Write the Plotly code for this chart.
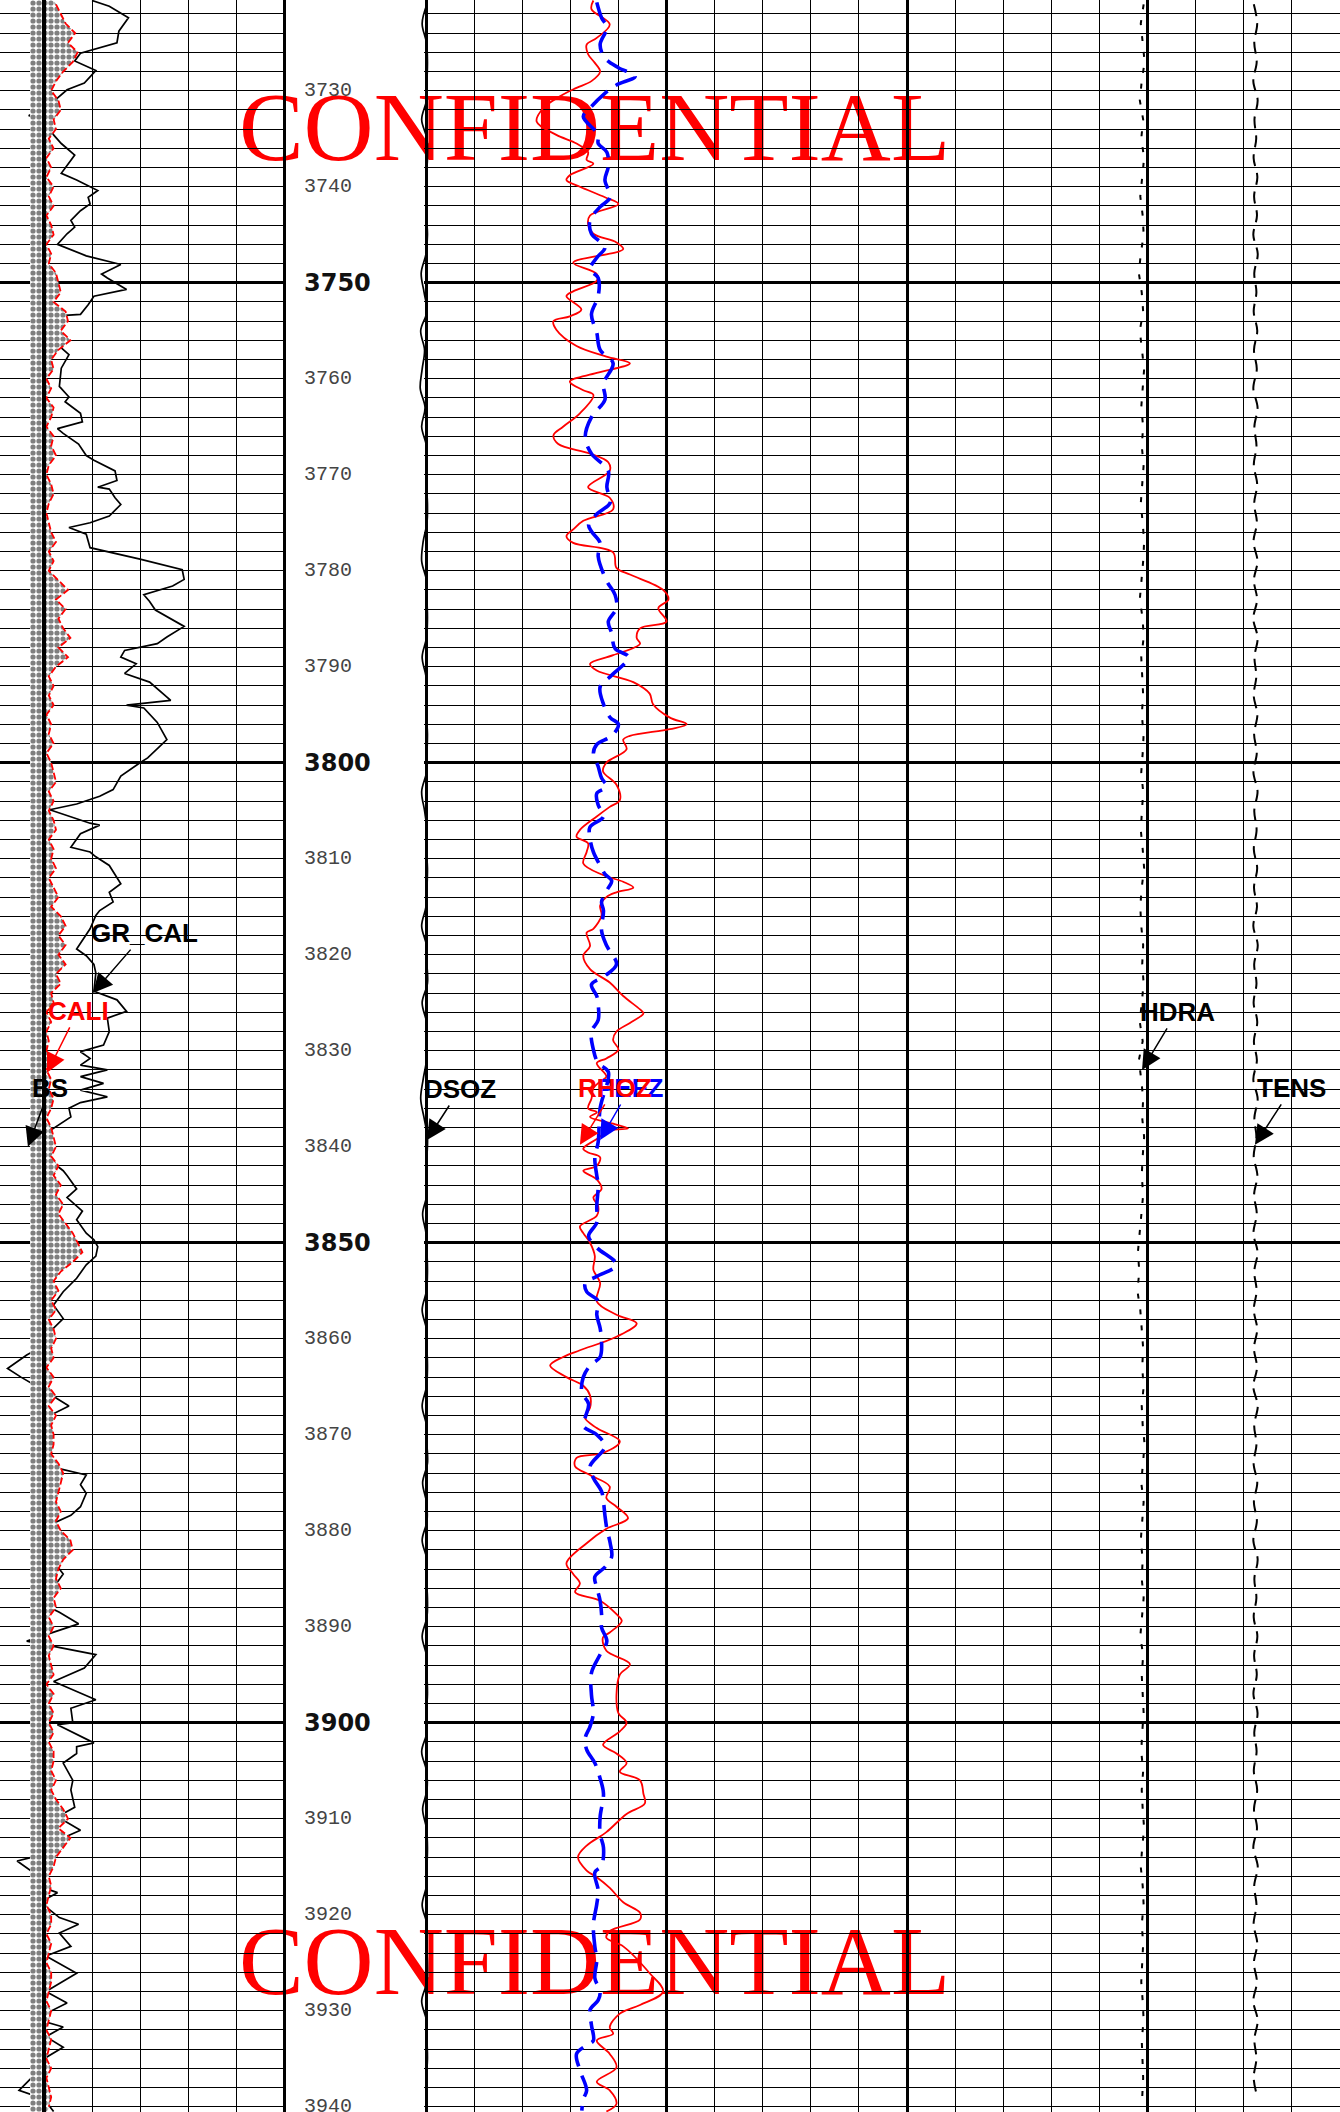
import plotly.graph_objects as go

# ---------------------------------------------------------------- depth window
TOP_DEPTH, BASE_DEPTH = 3720.55, 3940.55
W, H = 1340, 2112

# ---------------------------------------------------------------- track 1 : GR (gAPI)
GR_DEPTH = [
    3720.6, 3721.2, 3722.4, 3723.8, 3725.0, 3726.1, 3726.9, 3727.6, 3727.9, 3729.2,
    3729.9, 3731.1, 3731.8, 3732.6, 3732.8, 3733.9, 3734.6, 3735.5, 3736.7, 3738.6,
    3739.3, 3740.4, 3741.1, 3741.8, 3742.5, 3743.5, 3744.2, 3744.9, 3746.0, 3747.2,
    3748.1, 3749.1, 3749.5, 3750.7, 3751.4, 3752.3, 3753.3, 3753.5, 3753.8, 3754.7,
    3755.4, 3756.6, 3757.5, 3758.9, 3760.8, 3761.9, 3762.4, 3763.6, 3764.5, 3765.2,
    3765.7, 3766.8, 3768.0, 3768.5, 3769.6, 3770.6, 3771.3, 3771.5, 3772.4, 3773.1,
    3774.3, 3775.0, 3775.5, 3776.2, 3777.6, 3778.8, 3779.9, 3780.9, 3781.6, 3782.5,
    3783.2, 3784.1, 3785.8, 3786.9, 3787.6, 3788.3, 3789.0, 3789.7, 3790.7, 3791.6,
    3793.5, 3794.0, 3794.3, 3795.8, 3797.6, 3799.5, 3800.0, 3801.4, 3802.8, 3803.5,
    3804.3, 3804.9, 3805.6, 3806.3, 3806.5, 3807.4, 3808.8, 3809.3, 3809.8, 3810.7,
    3812.6, 3813.5, 3814.5, 3815.4, 3815.9, 3817.3, 3819.4, 3820.1, 3821.0, 3821.9,
    3823.8, 3824.7, 3825.9, 3826.6, 3828.0, 3829.4, 3830.1, 3830.8, 3831.5, 3832.0,
    3832.7, 3833.4, 3834.1, 3834.8, 3835.4, 3836.0, 3836.9, 3838.3, 3839.0, 3840.2,
    3841.1, 3842.5, 3843.0, 3844.4, 3845.3, 3846.7, 3847.6, 3849.0, 3849.7, 3850.4,
    3851.4, 3852.3, 3853.7, 3855.1, 3856.5, 3857.9, 3859.3, 3860.7, 3861.7, 3863.1,
    3864.0, 3865.4, 3867.0, 3868.2, 3868.4, 3869.6, 3870.0, 3871.9, 3873.3, 3874.2,
    3875.2, 3876.1, 3877.5, 3878.4, 3878.9, 3879.4, 3881.3, 3882.7, 3884.5, 3885.9,
    3887.8, 3888.5, 3889.7, 3891.5, 3892.9, 3894.3, 3895.7, 3897.6, 3898.5, 3900.0,
    3900.2, 3902.1, 3902.5, 3903.2, 3904.2, 3906.0, 3907.0, 3908.8, 3909.8, 3911.2,
    3912.6, 3914.0, 3914.4, 3915.4, 3916.1, 3916.3, 3917.2, 3917.7, 3918.7, 3920.3,
    3921.0, 3921.9, 3923.3, 3924.3, 3926.1, 3928.0, 3929.2, 3930.3, 3931.0, 3931.7,
    3932.7, 3933.8, 3935.0, 3936.9, 3938.3, 3939.2, 3940.5]
GR_API = [
    50, 59, 69, 64, 63, 44, 41, 49, 52, 46,
    37, 30, 26, 17, 25, 28, 30, 34, 41, 34,
    42, 53, 48, 49, 44, 39, 41, 37, 32, 47,
    65, 55, 58, 68, 51, 48, 44, 28, 23, 28,
    34, 33, 38, 34, 33, 38, 36, 44, 45, 32,
    35, 43, 47, 51, 62, 63, 53, 59, 62, 65,
    59, 49, 38, 47, 49, 75, 97, 98, 92, 77,
    80, 83, 98, 89, 84, 67, 65, 73, 67, 80,
    91, 68, 77, 84, 89, 79, 75, 65, 61, 54,
    42, 28, 39, 49, 54, 44, 39, 49, 52, 59,
    65, 59, 61, 54, 52, 49, 42, 47, 51, 52,
    51, 63, 68, 58, 59, 56, 44, 49, 44, 58,
    44, 56, 44, 58, 44, 38, 39, 28, 23, 19,
    26, 35, 37, 42, 37, 45, 42, 47, 51, 53,
    52, 47, 42, 35, 30, 35, 28, 25, 16, 6,
    13, 25, 38, 26, 18, 25, 30, 25, 28, 47,
    44, 47, 44, 39, 33, 28, 35, 28, 35, 30,
    26, 33, 43, 16, 52, 46, 30, 52, 39, 40,
    32, 51, 42, 42, 35, 40, 39, 41, 32, 44,
    28, 19, 11, 18, 19, 26, 25, 32, 23, 33,
    43, 33, 39, 26, 42, 26, 37, 26, 23, 35,
    26, 35, 25, 19, 12, 25, 30]

# ---------------------------------------------------------------- track 1 : caliper / bit size (in)
CALI_DEPTH = list(range(3721, 3941))
CALI_IN = [
    8.5, 8.7, 8.9, 9.3, 9.0, 9.4, 9.2, 8.8, 8.5, 8.3,
    8.6, 8.7, 8.4, 8.5, 8.2, 8.4, 8.1, 8.3, 8.1, 8.4,
    8.2, 8.4, 8.1, 8.3, 8.4, 8.1, 8.3, 8.2, 8.5, 8.6,
    8.7, 8.4, 8.9, 9.0, 8.7, 9.1, 8.6, 8.3, 8.4, 8.1,
    8.3, 8.1, 8.4, 8.3, 8.1, 8.4, 8.3, 8.5, 8.2, 8.1,
    8.3, 8.4, 8.2, 8.1, 8.2, 8.3, 8.5, 8.2, 8.4, 8.2,
    8.6, 9.0, 8.5, 8.9, 8.6, 8.8, 9.1, 8.6, 9.0, 8.5,
    8.2, 8.4, 8.2, 8.4, 8.1, 8.3, 8.2, 8.4, 8.1, 8.3,
    8.4, 8.5, 8.2, 8.4, 8.2, 8.4, 8.5, 8.2, 8.4, 8.3,
    8.5, 8.2, 8.4, 8.6, 8.3, 8.7, 8.9, 8.6, 8.9, 8.6,
    8.9, 8.5, 8.7, 8.3, 8.4, 8.1, 8.3, 8.1, 8.2, 8.1,
    8.3, 8.1, 8.3, 8.2, 8.4, 8.3, 8.1, 8.3, 8.4, 8.5,
    8.3, 8.6, 8.4, 8.7, 8.5, 8.8, 8.6, 8.9, 9.2, 9.4,
    9.6, 9.2, 8.7, 8.4, 8.6, 8.3, 8.5, 8.2, 8.4, 8.5,
    8.3, 8.4, 8.1, 8.4, 8.2, 8.5, 8.2, 8.5, 8.3, 8.4,
    8.4, 8.3, 8.6, 8.8, 8.7, 8.6, 8.5, 8.7, 8.5, 8.7,
    9.1, 9.2, 8.8, 8.6, 8.5, 8.7, 8.4, 8.5, 8.2, 8.4,
    8.2, 8.4, 8.2, 8.3, 8.4, 8.1, 8.4, 8.2, 8.4, 8.2,
    8.4, 8.2, 8.4, 8.4, 8.3, 8.5, 8.3, 8.5, 8.8, 9.0,
    8.6, 9.1, 8.8, 8.5, 8.4, 8.2, 8.3, 8.2, 8.1, 8.3,
    8.3, 8.1, 8.3, 8.2, 8.1, 8.3, 8.3, 8.2, 8.1, 8.3,
    8.2, 8.1, 8.3, 8.2, 8.1, 8.3, 8.1, 8.2, 8.3, 8.2]
BIT_SIZE = 8.0
STIPPLE_EDGE = 7.42   # outer edge of the hole-size stipple band

# ---------------------------------------------------------------- track 2 : bulk density (g/cc)
RHOZ_DEPTH = [
    3720.6, 3721.5, 3723.1, 3724.5, 3725.2, 3726.2, 3727.1, 3728.0, 3729.0, 3729.7,
    3730.4, 3731.8, 3733.2, 3734.6, 3735.5, 3736.4, 3737.2, 3737.6, 3738.8, 3739.3,
    3740.0, 3741.1, 3741.8, 3743.0, 3743.9, 3744.9, 3745.8, 3746.5, 3747.9, 3749.1,
    3749.8, 3750.9, 3751.4, 3752.8, 3753.5, 3754.0, 3754.9, 3756.6, 3757.7, 3758.4,
    3759.4, 3760.3, 3761.2, 3761.7, 3763.6, 3765.0, 3765.9, 3766.8, 3767.8, 3768.7,
    3769.6, 3771.3, 3772.4, 3773.6, 3774.8, 3775.7, 3776.4, 3777.1, 3778.1, 3779.7,
    3780.4, 3782.0, 3783.0, 3783.9, 3785.3, 3786.0, 3787.0, 3787.6, 3788.8, 3789.7,
    3790.4, 3791.6, 3792.8, 3793.9, 3795.3, 3796.0, 3796.5, 3797.2, 3797.6, 3798.6,
    3800.0, 3800.9, 3802.3, 3803.9, 3804.6, 3805.6, 3807.0, 3807.7, 3808.4, 3809.3,
    3810.5, 3811.7, 3812.4, 3813.0, 3813.5, 3814.0, 3814.9, 3815.9, 3817.3, 3817.7,
    3819.1, 3820.1, 3821.5, 3822.9, 3824.3, 3825.7, 3826.1, 3827.1, 3828.0, 3828.9,
    3829.9, 3830.8, 3831.3, 3832.7, 3833.2, 3833.9, 3835.0, 3836.0, 3836.4, 3836.9,
    3837.6, 3838.1, 3838.3, 3839.2, 3840.2, 3840.6, 3841.1, 3842.0, 3842.5, 3843.4,
    3844.4, 3845.3, 3846.2, 3847.2, 3848.3, 3849.0, 3850.0, 3851.4, 3852.8, 3854.2,
    3856.1, 3857.5, 3858.4, 3859.8, 3861.2, 3861.9, 3862.8, 3864.0, 3864.9, 3865.9,
    3867.2, 3868.2, 3869.3, 3870.7, 3871.9, 3872.4, 3873.3, 3874.2, 3875.4, 3876.6,
    3877.5, 3878.7, 3879.8, 3881.3, 3883.4, 3884.5, 3885.5, 3886.4, 3887.3, 3888.7,
    3889.4, 3890.6, 3891.1, 3892.5, 3893.9, 3895.0, 3897.1, 3899.0, 3900.0, 3900.9,
    3902.3, 3903.2, 3904.2, 3905.1, 3906.0, 3907.4, 3908.4, 3909.5, 3911.4, 3912.8,
    3914.0, 3915.4, 3916.1, 3917.2, 3918.7, 3919.8, 3920.5, 3921.7, 3922.4, 3923.3,
    3926.1, 3928.0, 3929.4, 3930.3, 3931.7, 3932.4, 3933.1, 3934.5, 3935.9, 3937.4,
    3938.3, 3939.7, 3940.5]
RHOZ_GCC = [
    2.298, 2.294, 2.332, 2.305, 2.284, 2.287, 2.301, 2.312, 2.294, 2.263,
    2.235, 2.194, 2.180, 2.221, 2.263, 2.287, 2.284, 2.298, 2.249, 2.242,
    2.270, 2.322, 2.350, 2.291, 2.287, 2.298, 2.346, 2.360, 2.256, 2.305,
    2.305, 2.256, 2.242, 2.273, 2.249, 2.215, 2.221, 2.263, 2.325, 2.374,
    2.305, 2.249, 2.277, 2.298, 2.270, 2.235, 2.215, 2.225, 2.291, 2.329,
    2.332, 2.287, 2.332, 2.339, 2.277, 2.256, 2.242, 2.256, 2.339, 2.346,
    2.374, 2.443, 2.454, 2.433, 2.450, 2.395, 2.388, 2.395, 2.339, 2.291,
    2.305, 2.381, 2.415, 2.422, 2.457, 2.492, 2.457, 2.374, 2.360, 2.367,
    2.325, 2.318, 2.346, 2.353, 2.332, 2.305, 2.270, 2.263, 2.287, 2.284,
    2.277, 2.318, 2.360, 2.381, 2.346, 2.325, 2.312, 2.315, 2.298, 2.284,
    2.291, 2.277, 2.291, 2.332, 2.360, 2.395, 2.402, 2.374, 2.346, 2.339,
    2.350, 2.325, 2.305, 2.325, 2.312, 2.298, 2.294, 2.287, 2.305, 2.291,
    2.339, 2.370, 2.332, 2.305, 2.277, 2.287, 2.312, 2.305, 2.277, 2.305,
    2.315, 2.298, 2.308, 2.305, 2.270, 2.277, 2.291, 2.301, 2.298, 2.312,
    2.305, 2.346, 2.388, 2.346, 2.270, 2.235, 2.208, 2.242, 2.277, 2.291,
    2.291, 2.280, 2.305, 2.353, 2.318, 2.263, 2.260, 2.291, 2.332, 2.325,
    2.346, 2.370, 2.325, 2.284, 2.242, 2.256, 2.270, 2.260, 2.312, 2.346,
    2.357, 2.332, 2.318, 2.325, 2.374, 2.353, 2.346, 2.350, 2.367, 2.353,
    2.318, 2.346, 2.367, 2.353, 2.395, 2.402, 2.405, 2.367, 2.325, 2.284,
    2.266, 2.284, 2.305, 2.332, 2.360, 2.395, 2.395, 2.332, 2.325, 2.360,
    2.415, 2.443, 2.395, 2.353, 2.332, 2.339, 2.305, 2.332, 2.346, 2.305,
    2.332, 2.346, 2.325]

# ---------------------------------------------------------------- track 2 : photoelectric factor (b/e)
PEFZ_DEPTH = [
    3720.8, 3722.4, 3723.4, 3725.2, 3726.6, 3727.6, 3728.5, 3729.4, 3730.4, 3731.8,
    3732.7, 3734.6, 3735.5, 3736.4, 3737.9, 3739.3, 3741.1, 3742.1, 3743.5, 3744.9,
    3746.3, 3747.4, 3748.6, 3749.5, 3751.4, 3753.3, 3755.2, 3757.0, 3758.4, 3760.5,
    3762.2, 3764.0, 3766.1, 3767.8, 3769.6, 3771.3, 3772.9, 3774.1, 3775.2, 3775.9,
    3777.1, 3778.5, 3781.1, 3782.5, 3783.9, 3785.3, 3786.5, 3788.1, 3789.0, 3790.9,
    3792.1, 3793.9, 3795.3, 3796.0, 3797.2, 3798.1, 3799.0, 3800.4, 3801.6, 3802.5,
    3803.2, 3804.4, 3805.6, 3806.7, 3807.9, 3809.3, 3810.7, 3811.6, 3812.3, 3813.3,
    3814.5, 3815.4, 3817.5, 3819.1, 3821.0, 3822.2, 3823.1, 3824.3, 3825.2, 3826.8,
    3828.0, 3829.9, 3831.3, 3832.2, 3836.0, 3839.5, 3841.1, 3843.0, 3843.9, 3846.2,
    3847.9, 3849.3, 3850.5, 3852.3, 3853.5, 3854.2, 3855.1, 3856.1, 3857.5, 3858.9,
    3860.3, 3861.9, 3862.8, 3864.0, 3865.6, 3866.8, 3868.2, 3869.1, 3870.0, 3871.2,
    3873.3, 3874.5, 3875.9, 3877.0, 3878.4, 3879.8, 3881.3, 3882.7, 3883.8, 3884.8,
    3885.9, 3887.3, 3888.7, 3890.1, 3891.5, 3892.9, 3894.8, 3897.1, 3899.0, 3900.4,
    3901.6, 3902.8, 3904.2, 3905.8, 3907.4, 3909.8, 3911.6, 3913.0, 3914.9, 3915.6,
    3917.5, 3918.9, 3921.0, 3923.3, 3924.7, 3926.6, 3928.0, 3928.9, 3929.9, 3931.5,
    3933.1, 3933.6, 3934.5, 3936.2, 3938.3, 3939.2, 3940.4]
PEFZ_BE = [
    3.55, 3.65, 3.76, 3.62, 3.72, 4.00, 4.35, 3.96, 3.69, 3.41,
    3.27, 3.58, 3.58, 3.76, 3.79, 3.72, 3.83, 3.62, 3.41, 3.44,
    3.72, 3.55, 3.41, 3.58, 3.58, 3.44, 3.55, 3.62, 3.89, 3.69,
    3.72, 3.44, 3.31, 3.44, 3.79, 3.76, 3.83, 3.55, 3.38, 3.44,
    3.62, 3.58, 3.76, 3.93, 3.96, 3.79, 3.86, 3.93, 4.21, 3.86,
    3.62, 3.69, 3.83, 4.00, 3.86, 3.55, 3.48, 3.58, 3.65, 3.76,
    3.55, 3.58, 3.69, 3.41, 3.41, 3.48, 3.62, 3.72, 3.86, 3.76,
    3.65, 3.69, 3.65, 3.76, 3.96, 3.72, 3.44, 3.55, 3.58, 3.58,
    3.44, 3.48, 3.58, 3.79, 3.62, 3.58, 3.51, 3.55, 3.58, 3.55,
    3.55, 3.38, 3.55, 3.96, 3.55, 3.31, 3.34, 3.58, 3.55, 3.62,
    3.65, 3.62, 3.41, 3.27, 3.24, 3.38, 3.31, 3.27, 3.55, 3.72,
    3.41, 3.48, 3.65, 3.69, 3.72, 3.76, 3.83, 3.86, 3.72, 3.51,
    3.55, 3.62, 3.65, 3.65, 3.76, 3.62, 3.44, 3.44, 3.48, 3.41,
    3.31, 3.34, 3.51, 3.62, 3.69, 3.62, 3.62, 3.69, 3.65, 3.51,
    3.58, 3.55, 3.48, 3.51, 3.55, 3.51, 3.62, 3.58, 3.41, 3.44,
    3.48, 3.34, 3.13, 3.20, 3.34, 3.27, 3.24]

# ---------------------------------------------------------------- 2 m sampled curves
STATION_DEPTH = list(range(3721, 3941, 2))
DSOZ_IN = [
    0.002, -0.008, 0.001, 0.003, 0.002, 0.001, -0.009, 0.002, 0.003, 0.001,
    0.002, 0.001, 0.003, 0.000, -0.010, -0.004, 0.002, -0.011, -0.003, -0.008,
    -0.012, -0.002, -0.009, 0.001, 0.002, 0.001, 0.003, 0.002, -0.006, -0.009,
    0.001, 0.002, 0.003, 0.001, -0.008, 0.000, 0.002, 0.001, 0.003, 0.002,
    0.001, -0.009, -0.003, 0.002, 0.001, 0.003, 0.002, 0.000, -0.009, 0.001,
    0.002, 0.003, -0.008, 0.001, 0.002, 0.001, -0.006, -0.011, -0.004, 0.003,
    0.002, 0.001, 0.002, -0.007, 0.000, 0.002, 0.003, 0.001, -0.008, 0.001,
    0.002, 0.003, 0.001, -0.008, 0.001, 0.002, 0.003, -0.007, 0.001, 0.002,
    -0.008, 0.002, 0.001, 0.003, 0.002, -0.008, 0.001, 0.002, 0.003, 0.001,
    0.002, -0.009, 0.001, 0.002, -0.007, 0.001, 0.003, 0.002, 0.001, -0.008,
    0.002, 0.001, 0.003, 0.002, -0.009, 0.001, 0.002, 0.003, 0.001, 0.002]
HDRA_GCC = [
    -0.008, -0.014, -0.010, -0.006, -0.012, -0.016, -0.009, -0.013, -0.007, -0.011,
    -0.015, -0.010, -0.008, -0.014, -0.018, -0.012, -0.009, -0.016, -0.011, -0.007,
    -0.010, -0.013, -0.009, -0.012, -0.008, -0.011, -0.014, -0.010, -0.007, -0.009,
    -0.012, -0.016, -0.010, -0.008, -0.013, -0.011, -0.009, -0.012, -0.008, -0.010,
    -0.013, -0.009, -0.011, -0.014, -0.010, -0.007, -0.012, -0.015, -0.013, -0.009,
    -0.011, -0.008, -0.012, -0.016, -0.010, -0.018, -0.013, -0.009, -0.011, -0.007,
    -0.010, -0.012, -0.009, -0.013, -0.016, -0.020, -0.017, -0.021, -0.015, -0.012,
    -0.009, -0.011, -0.008, -0.012, -0.010, -0.006, -0.009, -0.013, -0.008, -0.011,
    -0.014, -0.010, -0.012, -0.008, -0.011, -0.015, -0.009, -0.012, -0.010, -0.008,
    -0.011, -0.013, -0.009, -0.012, -0.010, -0.007, -0.011, -0.014, -0.010, -0.008,
    -0.012, -0.009, -0.011, -0.013, -0.010, -0.008, -0.012, -0.010, -0.009, -0.011]
TENS_LBF = [
    8605, 8640, 8610, 8635, 8600, 8645, 8612, 8630, 8603, 8642,
    8608, 8638, 8600, 8646, 8610, 8632, 8604, 8641, 8607, 8636,
    8600, 8644, 8611, 8633, 8605, 8640, 8609, 8637, 8602, 8643,
    8606, 8639, 8600, 8645, 8612, 8631, 8604, 8642, 8608, 8636,
    8601, 8644, 8610, 8634, 8605, 8640, 8607, 8638, 8600, 8646,
    8609, 8633, 8603, 8641, 8606, 8637, 8600, 8645, 8611, 8632,
    8604, 8642, 8608, 8636, 8601, 8644, 8610, 8634, 8605, 8640,
    8607, 8638, 8600, 8646, 8609, 8633, 8603, 8641, 8606, 8637,
    8600, 8645, 8611, 8632, 8604, 8642, 8608, 8636, 8601, 8644,
    8610, 8634, 8605, 8640, 8607, 8638, 8600, 8646, 8609, 8633,
    8603, 8641, 8606, 8637, 8600, 8645, 8611, 8632, 8604, 8642]

DEPTH_LABELS = list(range(3730, 3950, 10))

assert len(GR_DEPTH) == len(GR_API)
assert len(CALI_DEPTH) == len(CALI_IN)
assert len(RHOZ_DEPTH) == len(RHOZ_GCC)
assert len(PEFZ_DEPTH) == len(PEFZ_BE)
assert len(STATION_DEPTH) == len(DSOZ_IN) == len(HDRA_GCC) == len(TENS_LBF)

# ---------------------------------------------------------------- track geometry (px)
T1_ORIGIN, T1_DIV, T1_RIGHT = -4, 48.0, 286
T2_ORIGIN, T2_DIV, T2_LEFT = 426, 48.1, 424
DS_LEFT, DS_RIGHT = 400, 460


def scale(v0, per_div, origin, div, left, right):
    """Axis range for a curve scale whose value v0 sits at pixel `origin`."""
    return [v0 + (left - origin) / div * per_div, v0 + (right - origin) / div * per_div]


GRID = "#000000"
MINOR_W, MAJOR_W = 1.35, 3.0
STIPPLE = dict(shape=".", size=6, solidity=0.6, fgcolor="black", bgcolor="white")

fig = go.Figure()

# background text layer (drawn first so the grid sits over it)
fig.add_trace(go.Scatter(
    x=[0.4437, 0.4437], y=[1 - 136 / H, 1 - 1970 / H], mode="text",
    text=["CONFIDENTIAL", "CONFIDENTIAL"], textposition="middle center",
    textfont=dict(family="Liberation Serif, Times New Roman, serif", size=97, color="#ff0000"),
    xaxis="x", yaxis="y", hoverinfo="skip"))

# hole stipple: outer band and washout between bit size and caliper
fig.add_trace(go.Scatter(x=[STIPPLE_EDGE, STIPPLE_EDGE], y=[3719, 3942], mode="lines",
                         line=dict(width=0), xaxis="x3", yaxis="y2", hoverinfo="skip"))
fig.add_trace(go.Scatter(x=[BIT_SIZE, BIT_SIZE], y=[3719, 3942], mode="lines",
                         line=dict(width=0), fill="tonextx", fillcolor="white",
                         fillpattern=STIPPLE, xaxis="x3", yaxis="y2", hoverinfo="skip"))
fig.add_trace(go.Scatter(x=CALI_IN, y=CALI_DEPTH, mode="lines", line=dict(width=0),
                         fill="tonextx", fillcolor="white", fillpattern=STIPPLE,
                         xaxis="x3", yaxis="y2", hoverinfo="skip"))
# GR
fig.add_trace(go.Scatter(x=GR_API, y=GR_DEPTH, mode="lines",
                         line=dict(color="black", width=1.7), xaxis="x2", yaxis="y2"))
# CALI
fig.add_trace(go.Scatter(x=CALI_IN, y=CALI_DEPTH, mode="lines",
                         line=dict(color="#ff0000", width=1.8, dash="7px,3px"),
                         xaxis="x3", yaxis="y2"))
# BS
fig.add_trace(go.Scatter(x=[BIT_SIZE, BIT_SIZE], y=[3719, 3942], mode="lines",
                         line=dict(color="black", width=4), xaxis="x3", yaxis="y2"))

# track 2 curves
fig.add_trace(go.Scatter(x=HDRA_GCC, y=STATION_DEPTH, mode="lines",
                         line=dict(color="black", width=2, dash="5px,11px"),
                         xaxis="x6", yaxis="y3"))
fig.add_trace(go.Scatter(x=TENS_LBF, y=STATION_DEPTH, mode="lines", line_shape="spline",
                         line=dict(color="black", width=2, dash="12px,7px"),
                         xaxis="x7", yaxis="y3"))
fig.add_trace(go.Scatter(x=PEFZ_BE, y=PEFZ_DEPTH, mode="lines", line_shape="spline",
                         line=dict(color="#0000ff", width=3.6, dash="22px,10px"),
                         xaxis="x5", yaxis="y3"))
fig.add_trace(go.Scatter(x=RHOZ_GCC, y=RHOZ_DEPTH, mode="lines", line_shape="spline",
                         line=dict(color="#ff0000", width=1.8), xaxis="x4", yaxis="y3"))
fig.add_trace(go.Scatter(x=DSOZ_IN, y=STATION_DEPTH, mode="lines", line_shape="spline",
                         line=dict(color="black", width=1.7), xaxis="x8", yaxis="y4"))

hidden = dict(showticklabels=False, ticks="", showline=False, zeroline=False)
ygrid = dict(showgrid=True, gridcolor=GRID, gridwidth=MAJOR_W, tick0=3700, dtick=50,
             minor=dict(showgrid=True, tick0=3700, dtick=2, gridcolor=GRID, gridwidth=MINOR_W),
             **hidden)

fig.update_layout(
    width=W, height=H, margin=dict(l=0, r=0, t=0, b=0), showlegend=False,
    paper_bgcolor="white", plot_bgcolor="rgba(0,0,0,0)",
    xaxis=dict(domain=[0, 1], range=[0, 1], visible=False, fixedrange=True),
    yaxis=dict(domain=[0, 1], range=[0, 1], visible=False, fixedrange=True),
    # track 1
    xaxis2=dict(domain=[0, T1_RIGHT / W], anchor="y2",
                range=scale(0, 25, T1_ORIGIN, T1_DIV, 0, T1_RIGHT),
                showgrid=True, gridcolor=GRID, gridwidth=MAJOR_W, tick0=0, dtick=150,
                minor=dict(showgrid=True, tick0=0, dtick=25, gridcolor=GRID, gridwidth=MINOR_W),
                **hidden),
    xaxis3=dict(overlaying="x2", anchor="y2", showgrid=False,
                range=scale(6, 2, T1_ORIGIN, T1_DIV, 0, T1_RIGHT), **hidden),
    yaxis2=dict(domain=[0, 1], anchor="x2", range=[BASE_DEPTH, TOP_DEPTH], autorange=False,
                **ygrid),
    # track 2
    xaxis4=dict(domain=[T2_LEFT / W, 1], anchor="y3",
                range=scale(1.95, 0.1, T2_ORIGIN, T2_DIV, T2_LEFT, W),
                showgrid=True, gridcolor=GRID, gridwidth=MAJOR_W, tick0=1.95, dtick=0.5,
                minor=dict(showgrid=True, tick0=1.95, dtick=0.1, gridcolor=GRID,
                           gridwidth=MINOR_W),
                **hidden),
    xaxis5=dict(overlaying="x4", anchor="y3", showgrid=False,
                range=scale(0, 1, T2_ORIGIN, T2_DIV, T2_LEFT, W), **hidden),
    xaxis6=dict(overlaying="x4", anchor="y3", showgrid=False,
                range=scale(-1.5, 0.1, T2_ORIGIN, T2_DIV, T2_LEFT, W), **hidden),
    xaxis7=dict(overlaying="x4", anchor="y3", showgrid=False,
                range=scale(0, 500, T2_ORIGIN, T2_DIV, T2_LEFT, W), **hidden),
    yaxis3=dict(domain=[0, 1], anchor="x4", matches="y2", **ygrid),
    # standoff strip straddling the track 2 edge
    xaxis8=dict(domain=[DS_LEFT / W, DS_RIGHT / W], anchor="y4", showgrid=False,
                range=scale(0, 0.1, T2_ORIGIN, T2_DIV, DS_LEFT, DS_RIGHT), **hidden),
    yaxis4=dict(domain=[0, 1], anchor="x8", matches="y2", showgrid=False, **hidden),
)

# depth numbers
for d in DEPTH_LABELS:
    major = d % 50 == 0
    fig.add_annotation(
        xref="paper", yref="y2", x=302 / W, y=d, xanchor="left", yanchor="middle",
        text=f"<b>{d}</b>" if major else str(d), showarrow=False,
        font=dict(family="DejaVu Sans, sans-serif", size=24, color="#111111") if major
        else dict(family="Liberation Mono, Courier New, monospace", size=20, color="#444444"))

# curve labels with pointers
LABEL_FONT = "Liberation Sans Narrow, Arial Narrow, Liberation Sans, sans-serif"
CURVE_TAGS = [
    # text, colour, xref, yref, x, depth, ax, ay
    ("GR_CAL", "black", "x2", "y2", 50.5, 3824.0, 52, -60),
    ("CALI", "#ff0000", "x3", "y2", 8.125, 3832.3, 31, -62),
    ("BS", "black", "x3", "y2", 7.33, 3840.0, 22, -59),
    ("DSOZ", "black", "x8", "y4", 0.002, 3839.3, 33, -51),
    ("PEFZ", "#0000ff", "x5", "y3", 3.62, 3839.3, 30, -52),
    ("RHOZ", "#ff0000", "x4", "y3", 2.27, 3839.8, 35, -57),
    ("HDRA", "black", "x6", "y3", -0.0114, 3832.0, 35, -58),
    ("TENS", "black", "x7", "y3", 8617, 3839.8, 37, -57),
]
for text, color, xr, yr, x, d, ax, ay in CURVE_TAGS:
    fig.add_annotation(
        xref=xr, yref=yr, x=x, y=d, ax=ax, ay=ay, text=f"<b>{text}</b>",
        showarrow=True, arrowhead=2, arrowsize=2.6, arrowwidth=1.5, arrowcolor=color,
        standoff=0, font=dict(family=LABEL_FONT, size=26, color=color))

fig.write_html("out.html", config={"displayModeBar": False})
